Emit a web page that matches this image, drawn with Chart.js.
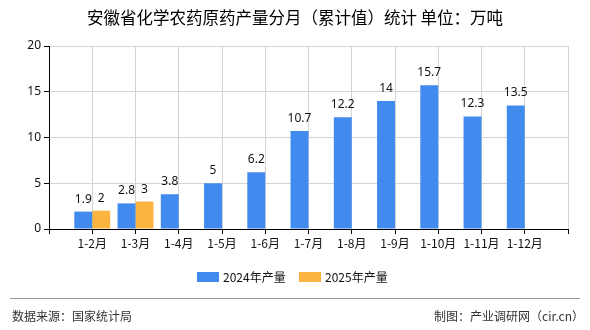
<!DOCTYPE html>
<html>
<head>
<meta charset="utf-8">
<script src="https://cdn.jsdelivr.net/npm/chart.js@4"></script>
<style>
  html, body { margin: 0; padding: 0; background: #fff; }
  #wrap { width: 590px; height: 330px; position: relative; }
</style>
</head>
<body>
<div id="wrap"><canvas id="c" width="590" height="330"></canvas></div>
<script>
const months = ['1-2月', '1-3月', '1-4月', '1-5月', '1-6月', '1-7月', '1-8月', '1-9月', '1-10月', '1-11月', '1-12月'];
const production2024 = [1.9, 2.8, 3.8, 5, 6.2, 10.7, 12.2, 14, 15.7, 12.3, 13.5];
const production2025 = [2, 3, null, null, null, null, null, null, null, null, null];
const seriesNames = ['2024年产量', '2025年产量'];
const yTicks = [0, 5, 10, 15, 20];
const titleText = '安徽省化学农药原药产量分月（累计值）统计 单位：万吨';
const sourceText = '数据来源：国家统计局';
const makerText = '制图：产业调研网（cir.cn）';

const colors = ['#418bef', '#fbb43f'];
const CJK = "'Noto Sans CJK SC', 'Noto Sans', sans-serif";

// pad with empty categories at both ends so groups sit on the tick lines
const labels = [''].concat(months, ['']);
const pad = arr => [null].concat(arr, [null]);

const decorPlugin = {
  id: 'decor',
  afterDatasetsDraw(chart) {
    const ctx = chart.ctx;
    ctx.save();
    // value labels
    ctx.font = "12px 'Noto Sans', sans-serif";
    ctx.fillStyle = '#111';
    ctx.textAlign = 'center';
    ctx.textBaseline = 'alphabetic';
    chart.data.datasets.forEach((ds, di) => {
      const meta = chart.getDatasetMeta(di);
      meta.data.forEach((bar, i) => {
        const v = ds.data[i];
        if (v === null || v === undefined) return;
        ctx.fillText(String(v), bar.x, bar.y - 9);
      });
    });
    ctx.restore();
  },
  afterDraw(chart) {
    const ctx = chart.ctx;
    ctx.save();
    // title
    ctx.fillStyle = '#000';
    ctx.font = "16.5px " + CJK;
    ctx.textAlign = 'center';
    ctx.textBaseline = 'middle';
    ctx.fillText(titleText, 295, 18);
    // legend
    ctx.font = "12px " + CJK;
    ctx.textAlign = 'left';
    const legendX = [197, 299];
    seriesNames.forEach((n, i) => {
      ctx.fillStyle = colors[i];
      ctx.fillRect(legendX[i], 272, 22, 10);
      ctx.fillStyle = '#111';
      ctx.fillText(n, legendX[i] + 26, 277);
    });
    // footer
    ctx.strokeStyle = '#999';
    ctx.lineWidth = 1;
    ctx.beginPath();
    ctx.moveTo(10, 298.5);
    ctx.lineTo(580, 298.5);
    ctx.stroke();
    ctx.fillStyle = '#333';
    ctx.font = "12px " + CJK;
    ctx.textAlign = 'left';
    ctx.fillText(sourceText, 12, 316);
    ctx.textAlign = 'right';
    ctx.fillText(makerText, 584, 316);
    ctx.restore();
  }
};

new Chart(document.getElementById('c'), {
  type: 'bar',
  data: {
    labels: labels,
    datasets: [
      { label: seriesNames[0], data: pad(production2024), backgroundColor: colors[0] },
      { label: seriesNames[1], data: pad(production2025), backgroundColor: colors[1] }
    ]
  },
  options: {
    responsive: false,
    animation: false,
    events: [],
    layout: { padding: { top: 46, right: 22, bottom: 71, left: 0 } },
    plugins: { legend: { display: false }, title: { display: false }, tooltip: { enabled: false } },
    datasets: { bar: { barPercentage: 1, categoryPercentage: 0.83 } },
    scales: {
      x: {
        type: 'category',
        offset: false,
        grid: { offset: false, color: '#d4d4d4', tickColor: '#000', tickLength: 5, drawOnChartArea: true },
        border: { color: '#000', width: 1 },
        ticks: { autoSkip: false, maxRotation: 0, color: '#111', font: { size: 12, family: CJK }, padding: 2 },
        afterFit(s) { s.height = 30; }
      },
      y: {
        min: 0, max: 20,
        afterBuildTicks(s) { s.ticks = yTicks.map(v => ({ value: v })); },
        grid: { color: '#d4d4d4', tickColor: '#000', tickLength: 5 },
        border: { color: '#000', width: 1 },
        ticks: { color: '#111', font: { size: 12, family: "'Noto Sans', sans-serif" }, padding: 3 },
        afterFit(s) { s.width = 49; }
      }
    }
  },
  plugins: [decorPlugin]
});
</script>
</body>
</html>
